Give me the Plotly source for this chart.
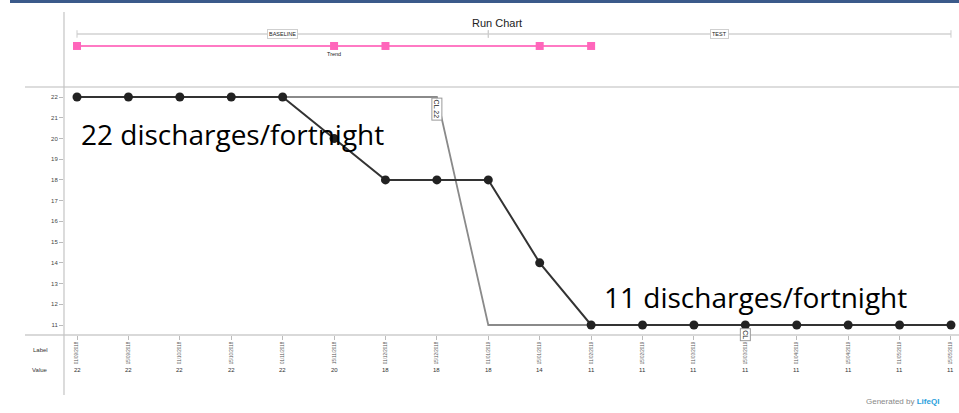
import plotly.graph_objects as go

# ---------------- data ----------------
dates = ["01/09/2018", "15/09/2018", "01/10/2018", "15/10/2018", "01/11/2018",
         "15/11/2018", "01/12/2018", "15/12/2018", "01/01/2019", "15/01/2019",
         "01/02/2019", "15/02/2019", "01/03/2019", "15/03/2019", "01/04/2019",
         "15/04/2019", "01/05/2019", "15/05/2019"]
values = [22, 22, 22, 22, 22, 20, 18, 18, 18, 14, 11, 11, 11, 11, 11, 11, 11, 11]
center_line = [22, 22, 22, 22, 22, 22, 22, 22, 11, 11, 11, 11, 11, 11, 11, 11, 11, 11]
trend_idx = [0, 5, 6, 9, 10]
phases = [("BASELINE", 0, 8), ("TEST", 8, 17)]
y_ticks = list(range(11, 23))

W, H = 959, 413
def px(xp):
    return xp / W
def py(yp):
    return 1 - yp / H

idx = list(range(len(values)))

fig = go.Figure()

# centre line
fig.add_trace(go.Scatter(x=idx, y=center_line, mode="lines",
                         line=dict(color="#8a8a8a", width=1.8),
                         hoverinfo="skip", showlegend=False))
# data line
fig.add_trace(go.Scatter(x=idx, y=values, mode="lines+markers",
                         line=dict(color="#333333", width=2),
                         marker=dict(color="#222222", size=9),
                         showlegend=False))

# top panel: trend markers
trend_y = 0.547
fig.add_trace(go.Scatter(x=[trend_idx[0], trend_idx[-1]], y=[trend_y, trend_y], mode="lines",
                         line=dict(color="#ff7ac4", width=2), xaxis="x", yaxis="y2",
                         showlegend=False, hoverinfo="skip"))
fig.add_trace(go.Scatter(x=trend_idx, y=[trend_y] * len(trend_idx), mode="markers",
                         marker=dict(color="#ff66bb", size=8, symbol="square"),
                         xaxis="x", yaxis="y2", showlegend=False))

shapes = []
phase_y = 0.707
for name, a, b in phases:
    shapes.append(dict(type="line", xref="x", yref="y2", x0=a, x1=b, y0=phase_y, y1=phase_y,
                       line=dict(color="#dddddd", width=2), layer="below"))
    for xv in (a, b):
        shapes.append(dict(type="line", xref="x", yref="y2", x0=xv, x1=xv,
                           y0=phase_y - 0.05, y1=phase_y + 0.05,
                           line=dict(color="#cccccc", width=1)))

# frame lines
shapes += [
    dict(type="rect", xref="paper", yref="paper", x0=px(10), x1=1, y0=py(3), y1=1,
         line=dict(width=0), fillcolor="#3b5a8a"),
    dict(type="line", xref="paper", yref="paper", x0=px(25), x1=1, y0=py(87), y1=py(87),
         line=dict(color="#bbbbbb", width=1)),
    dict(type="line", xref="paper", yref="paper", x0=px(25), x1=1, y0=py(335), y1=py(335),
         line=dict(color="#cccccc", width=1.5)),
    dict(type="line", xref="paper", yref="paper", x0=px(64), x1=px(64), y0=py(395), y1=py(12),
         line=dict(color="#c4c4c4", width=1.2)),
]

annotations = []
annotations.append(dict(text="Run Chart", x=px(497), y=py(23), xref="paper", yref="paper",
                        xanchor="center", yanchor="middle",
                        showarrow=False, font=dict(family="Liberation Sans", size=11, color="#222")))
for name, a, b in phases:
    annotations.append(dict(text=name, x=(a + b) / 2, y=phase_y, xref="x", yref="y2",
                            xanchor="center", yanchor="middle",
                            showarrow=False, font=dict(family="Liberation Sans", size=5.5, color="#222"),
                            bgcolor="white", bordercolor="#cfcfcf", borderwidth=1, borderpad=1))
annotations.append(dict(text="Trend", x=trend_idx[1], y=0.44, xref="x", yref="y2",
                        xanchor="center", yanchor="middle",
                        showarrow=False, font=dict(family="Liberation Sans", size=5.5, color="#222")))

# CL labels
annotations.append(dict(text="CL 22", x=7, y=22, xref="x", yref="y", xanchor="center",
                        yanchor="top", yshift=-1,
                        textangle=90, showarrow=False,
                        font=dict(family="Liberation Sans", size=7, color="#222"),
                        bgcolor="white", bordercolor="#999", borderwidth=1, borderpad=1))
annotations.append(dict(text="CL", x=13, y=11, xref="x", yref="y", xanchor="center",
                        yanchor="top", yshift=-3,
                        textangle=90, showarrow=False,
                        font=dict(family="Liberation Sans", size=7, color="#222"),
                        bgcolor="white", bordercolor="#999", borderwidth=1, borderpad=1))

# big text
annotations.append(dict(text="22 discharges/fortnight", x=px(79), y=py(134), xref="paper", yref="paper",
                        xanchor="left", yanchor="middle", showarrow=False,
                        font=dict(family="Open Sans", size=28, color="#000")))
annotations.append(dict(text="11 discharges/fortnight", x=px(602), y=py(297), xref="paper", yref="paper",
                        xanchor="left", yanchor="middle", showarrow=False,
                        font=dict(family="Open Sans", size=28, color="#000")))

# row labels
annotations.append(dict(text="Label", x=px(40), y=py(350), xref="paper", yref="paper",
                        xanchor="center", yanchor="middle",
                        showarrow=False, font=dict(family="Liberation Sans", size=6, color="#333")))
annotations.append(dict(text="Value", x=px(40), y=py(370), xref="paper", yref="paper",
                        xanchor="center", yanchor="middle",
                        showarrow=False, font=dict(family="Liberation Sans", size=6, color="#333")))
for i, v in zip(idx, values):
    annotations.append(dict(text=str(v), x=i, y=py(370), xref="x", yref="paper",
                            xanchor="center", yanchor="middle",
                            showarrow=False, font=dict(family="Liberation Sans", size=6, color="#333")))

annotations.append(dict(text="Generated by <span style='color:#2aa0dc'><b>LifeQI</b></span>",
                        x=px(864), y=py(401), xref="paper", yref="paper", xanchor="left",
                        yanchor="middle",
                        showarrow=False, font=dict(family="Liberation Sans", size=8, color="#888")))

fig.update_layout(
    width=W, height=H,
    margin=dict(l=0, r=0, t=0, b=0),
    paper_bgcolor="white", plot_bgcolor="white",
    showlegend=False,
    xaxis=dict(domain=[px(64), 1], range=[-0.253, 17.156], tickmode="array",
               tickvals=idx, ticktext=dates, tickangle=-90,
               tickfont=dict(family="Liberation Sans", size=4.5, color="#555"),
               ticks="outside", ticklen=4, tickcolor="#bbb",
               showgrid=False, zeroline=False, showline=False, anchor="y"),
    yaxis=dict(domain=[py(335), py(88)], range=[10.518, 22.434], tickmode="array",
               tickvals=y_ticks, tickfont=dict(family="Liberation Sans", size=6, color="#444"),
               ticks="outside", ticklen=4, tickcolor="#bbb",
               showgrid=False, zeroline=False, showline=False, anchor="x"),
    yaxis2=dict(domain=[py(87), py(12)], range=[0, 1], visible=False, anchor="x"),
    shapes=shapes,
    annotations=annotations,
)

fig.write_html("out.html", config={"displayModeBar": False},
               post_script="document.body.style.margin='0';document.body.style.overflow='hidden';")
